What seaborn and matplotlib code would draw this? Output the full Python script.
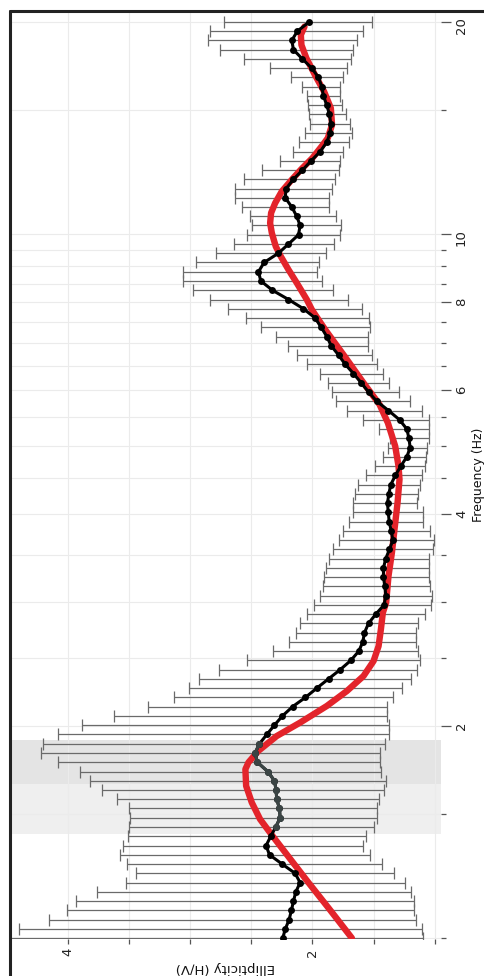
import numpy as np
import matplotlib
matplotlib.use("Agg")
import matplotlib.pyplot as plt
from matplotlib.lines import Line2D
from matplotlib.ticker import FixedLocator, FixedFormatter, NullFormatter
import seaborn as sns

freq_hz = [
    1.000, 1.031, 1.062, 1.095, 1.129, 1.163, 1.199, 1.236, 1.274, 1.313,
    1.353, 1.395, 1.438, 1.482, 1.528, 1.575, 1.623, 1.673, 1.724, 1.777,
    1.832, 1.888, 1.946, 2.006, 2.068, 2.131, 2.197, 2.264, 2.334, 2.405,
    2.479, 2.556, 2.634, 2.715, 2.799, 2.885, 2.973, 3.065, 3.159, 3.256,
    3.356, 3.459, 3.565, 3.675, 3.788, 3.904, 4.024, 4.148, 4.275, 4.406,
    4.542, 4.681, 4.825, 4.973, 5.126, 5.283, 5.446, 5.613, 5.785, 5.963,
    6.146, 6.335, 6.530, 6.730, 6.937, 7.150, 7.370, 7.596, 7.830, 8.070,
    8.318, 8.574, 8.837, 9.109, 9.389, 9.675, 9.972, 10.28, 10.59, 10.92,
    11.26, 11.60, 11.96, 12.32, 12.70, 13.09, 13.50, 13.91, 14.34, 14.78,
    15.23, 15.70, 16.18, 16.68, 17.19, 17.72, 18.26, 18.83, 19.41, 20.00,
]
ellip_mean = [
    2.243, 2.221, 2.191, 2.172, 2.155, 2.136, 2.101, 2.142, 2.248, 2.351,
    2.379, 2.341, 2.300, 2.264, 2.270, 2.292, 2.297, 2.311, 2.365, 2.450,
    2.469, 2.433, 2.373, 2.311, 2.245, 2.163, 2.057, 1.965, 1.869, 1.774,
    1.687, 1.621, 1.589, 1.575, 1.542, 1.482, 1.415, 1.401, 1.409, 1.420,
    1.420, 1.401, 1.371, 1.343, 1.357, 1.373, 1.381, 1.387, 1.376, 1.360,
    1.322, 1.278, 1.229, 1.202, 1.212, 1.229, 1.289, 1.379, 1.474, 1.542,
    1.602, 1.665, 1.733, 1.787, 1.847, 1.883, 1.929, 1.978, 2.074, 2.196,
    2.327, 2.422, 2.441, 2.395, 2.278, 2.196, 2.114, 2.101, 2.128, 2.169,
    2.223, 2.215, 2.155, 2.082, 2.011, 1.937, 1.883, 1.856, 1.850, 1.861,
    1.883, 1.910, 1.924, 1.951, 2.005, 2.082, 2.155, 2.169, 2.123, 2.027,
]
ellip_high = [
    4.600, 4.398, 4.150, 4.008, 3.935, 3.763, 3.526, 3.444, 3.512, 3.569,
    3.550, 3.510, 3.496, 3.488, 3.501, 3.599, 3.722, 3.815, 3.899, 4.076,
    4.221, 4.199, 4.076, 3.886, 3.624, 3.346, 3.128, 3.011, 2.924, 2.760,
    2.531, 2.319, 2.188, 2.136, 2.101, 2.046, 1.986, 1.937, 1.910, 1.905,
    1.888, 1.869, 1.834, 1.782, 1.747, 1.698, 1.665, 1.665, 1.651, 1.624,
    1.561, 1.488, 1.425, 1.379, 1.365, 1.455, 1.589, 1.719, 1.809, 1.842,
    1.877, 1.937, 2.041, 2.128, 2.196, 2.300, 2.422, 2.545, 2.687, 2.837,
    2.973, 3.054, 3.054, 2.954, 2.790, 2.638, 2.531, 2.490, 2.510, 2.572,
    2.632, 2.632, 2.556, 2.414, 2.264, 2.161, 2.109, 2.060, 2.019, 2.025,
    2.033, 2.046, 2.087, 2.177, 2.343, 2.556, 2.752, 2.856, 2.837, 2.719,
]
ellip_low = [
    1.093, 1.106, 1.153, 1.172, 1.174, 1.196, 1.248, 1.332, 1.433, 1.534,
    1.589, 1.564, 1.501, 1.474, 1.474, 1.455, 1.414, 1.401, 1.439, 1.452,
    1.452, 1.406, 1.373, 1.371, 1.392, 1.392, 1.346, 1.270, 1.196, 1.142,
    1.120, 1.134, 1.155, 1.155, 1.134, 1.079, 1.033, 1.025, 1.038, 1.052,
    1.052, 1.044, 1.016, 1.011, 1.038, 1.093, 1.101, 1.147, 1.134, 1.120,
    1.106, 1.079, 1.071, 1.065, 1.052, 1.044, 1.052, 1.106, 1.202, 1.292,
    1.371, 1.425, 1.469, 1.515, 1.550, 1.548, 1.534, 1.542, 1.597, 1.706,
    1.834, 1.924, 1.959, 1.943, 1.888, 1.828, 1.774, 1.766, 1.809, 1.861,
    1.869, 1.842, 1.815, 1.787, 1.779, 1.747, 1.698, 1.678, 1.692, 1.725,
    1.760, 1.779, 1.774, 1.752, 1.719, 1.687, 1.665, 1.638, 1.591, 1.510,
]

# theoretical ellipticity (red curve)
model_freq = [
    1.000, 1.099, 1.199, 1.309, 1.397, 1.475, 1.558, 1.645, 1.737, 1.776,
    1.845, 1.936, 2.023, 2.136, 2.243, 2.356, 2.474, 2.598, 2.745, 2.898,
    2.995, 3.266, 3.526, 3.804, 4.152, 4.480, 4.679, 4.995, 5.391, 5.724,
    6.144, 6.704, 7.312, 7.806, 8.066, 8.518, 8.897, 9.293, 9.601, 10.03,
    10.36, 10.71, 11.06, 11.49, 11.94, 12.34, 12.82, 13.35, 13.68, 14.29,
    15.09, 15.93, 16.82, 17.77, 18.55, 19.17, 19.70,
]
model_ellip = [
    1.678, 1.861, 2.033, 2.202, 2.327, 2.428, 2.496, 2.542, 2.548, 2.523,
    2.441, 2.292, 2.101, 1.883, 1.719, 1.583, 1.501, 1.460, 1.441, 1.425,
    1.398, 1.379, 1.351, 1.330, 1.305, 1.289, 1.297, 1.324, 1.384, 1.452,
    1.583, 1.738, 1.896, 2.005, 2.046, 2.128, 2.196, 2.259, 2.300, 2.332,
    2.346, 2.338, 2.305, 2.251, 2.169, 2.095, 2.000, 1.920, 1.875, 1.840,
    1.850, 1.905, 1.980, 2.050, 2.090, 2.095, 2.065,
]

band_light = (1.405, 1.654)
band_dark = (1.654, 1.909)

freq_major = [2, 4, 6, 8, 10, 20]
freq_minor = [1, 1.5, 2.5, 3, 3.5, 4.5, 5, 5.5, 6.5, 7, 7.5, 8.5, 9, 9.5, 15]
ellip_major = [2, 4]
ellip_minor = [1, 1.5, 2.5, 3, 3.5]

sns.set_theme(style="whitegrid")
plt.rcParams["font.family"] = ["DejaVu Sans"]

W, H = 485, 976
fig = plt.figure(figsize=(W / 100, H / 100), dpi=100)
ax = fig.add_axes([10 / W, (H - 939) / H, 431 / W, 928 / H])

mean = np.array(ellip_mean)
f = np.array(freq_hz)

ax.axhspan(*band_light, color="#efefef", lw=0, zorder=0)
ax.axhspan(*band_dark, color="#e4e4e4", lw=0, zorder=0)

xerr = [mean - np.array(ellip_low), np.array(ellip_high) - mean]
ax.errorbar(mean, f, xerr=xerr, fmt="none", ecolor="#6a6a6a",
            elinewidth=0.9, capsize=4.5, capthick=0.9, zorder=2)

sns.lineplot(x=model_ellip, y=model_freq, sort=False, estimator=None,
             color="#e3242b", linewidth=4.6, ax=ax, zorder=3)
sns.lineplot(x=ellip_mean, y=freq_hz, sort=False, estimator=None,
             color="black", linewidth=2.2, marker="o", markersize=5,
             markeredgewidth=0, ax=ax, zorder=4)

inband = (f >= band_light[0]) & (f <= band_dark[1])
sns.lineplot(x=mean[inband], y=f[inband], sort=False, estimator=None,
             color="#3b4545", linewidth=2.2, marker="o", markersize=5,
             markeredgewidth=0, ax=ax, zorder=4.5)

ax.set_yscale("log")
ax.set_xlim(4.471, 0.950)
ax.set_ylim(0.997, 20.73)

ax.yaxis.set_major_locator(FixedLocator(freq_major))
ax.yaxis.set_major_formatter(FixedFormatter([str(v) for v in freq_major]))
ax.yaxis.set_minor_locator(FixedLocator(freq_minor))
ax.yaxis.set_minor_formatter(NullFormatter())
ax.xaxis.set_major_locator(FixedLocator(ellip_major))
ax.xaxis.set_major_formatter(FixedFormatter([str(v) for v in ellip_major]))
ax.xaxis.set_minor_locator(FixedLocator(ellip_minor))
ax.xaxis.set_minor_formatter(NullFormatter())

ax.yaxis.tick_right()
ax.yaxis.set_label_position("right")
ax.tick_params(axis="y", which="major", right=True, length=7, width=0.9,
               color="#555555", labelrotation=90, labelsize=9.5,
               labelcolor="#222222", pad=3)
ax.tick_params(axis="y", which="minor", right=True, length=3.5, width=0.9,
               color="#555555")
ax.tick_params(axis="x", which="both", bottom=True, length=3.5, width=0.9,
               color="#555555", labelrotation=90, labelsize=9.5,
               labelcolor="#222222", pad=3)

ax.grid(True, which="both", color="#ebebeb", linewidth=0.8)
for side in ax.spines:
    ax.spines[side].set_visible(False)

ax.set_xlabel("Ellipticity (H/V)", fontsize=9.5, rotation=180, color="#111111")
ax.xaxis.set_label_coords(0.5, -0.024)
ax.set_ylabel("Frequency (Hz)", fontsize=9, rotation=90, color="#111111")
ax.yaxis.set_label_coords(1.071, 0.5)

# panel frame (left and top edges)
fig.add_artist(Line2D([10 / W, 10 / W], [0, (H - 11) / H], color="#222222",
                      lw=2.2, transform=fig.transFigure))
fig.add_artist(Line2D([10 / W, 1], [(H - 11) / H, (H - 11) / H],
                      color="#222222", lw=2.2, transform=fig.transFigure))

fig.savefig("out.png", dpi=100)
